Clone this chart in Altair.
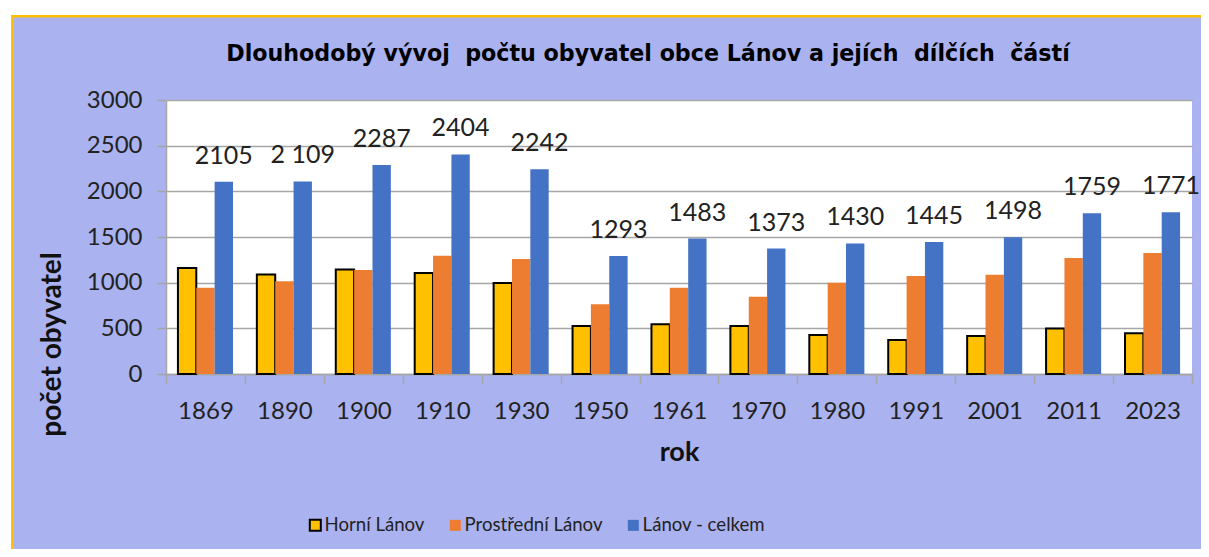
import altair as alt
import pandas as pd

years = ["1869", "1890", "1900", "1910", "1930", "1950", "1961", "1970", "1980", "1991", "2001", "2011", "2023"]
horni = [1160, 1090, 1145, 1105, 995, 525, 545, 525, 427, 372, 416, 497, 445]
prostredni = [945, 1015, 1140, 1295, 1258, 763, 945, 847, 1000, 1073, 1088, 1270, 1325]
celkem = [2105, 2109, 2287, 2404, 2242, 1293, 1483, 1373, 1430, 1445, 1498, 1759, 1771]
celkem_labels = ["2105", "2 109", "2287", "2404", "2242", "1293", "1483", "1373", "1430", "1445", "1498", "1759", "1771"]
series_names = ["Horní Lánov", "Prostřední Lánov", "Lánov - celkem"]
colors = ["#FFC000", "#ED7D31", "#4472C4"]
strokes = ["#000000", "transparent", "transparent"]
y_ticks = [0, 500, 1000, 1500, 2000, 2500, 3000]
title_text = "Dlouhodobý vývoj\u00a0 počtu obyvatel obce Lánov a jejích\u00a0 dílčích\u00a0 částí"

rows = []
for s, vals in zip(series_names, [horni, prostredni, celkem]):
    for i, (yr, v) in enumerate(zip(years, vals)):
        rows.append({"rok": yr, "series": s, "value": v,
                     "label": celkem_labels[i] if s == "Lánov - celkem" else ""})
df = pd.DataFrame(rows)

BG = "#AAB2F0"
GRID = "#A6A6A6"
TXT = "#222222"

legend = alt.Legend(orient="none", legendX=140, legendY=416, direction="horizontal", title=None,
                    symbolType="square", symbolSize=121, symbolStrokeWidth=2,
                    labelFont="Lato", labelFontSize=18.6, labelColor=TXT,
                    columnPadding=20, labelOffset=0, padding=0)

x_enc = alt.X("rok:N", sort=years, scale=alt.Scale(paddingInner=0, paddingOuter=0),
              axis=alt.Axis(title="rok", labelAngle=0, tickBand="extent",
                            labelFont="Lato", labelFontSize=24, labelColor=TXT, labelPadding=16,
                            tickSize=9, tickColor=GRID, tickWidth=1.5, domainColor=GRID, domainWidth=1.5,
                            titleFont="Lato", titleFontSize=27, titleFontWeight="bold", titleColor="#111111",
                            titleBaseline="alphabetic", titleY=86, grid=False))
xoff_enc = alt.XOffset("series:N", sort=series_names,
                       scale=alt.Scale(domain=series_names, paddingInner=0, paddingOuter=0.65))
y_enc = alt.Y("value:Q", scale=alt.Scale(domain=[0, 3000], nice=False),
              axis=alt.Axis(title="počet obyvatel", values=y_ticks, format="d", grid=True,
                            gridColor=GRID, gridWidth=1.5,
                            labelFont="Lato", labelFontSize=24, labelColor=TXT, labelPadding=15,
                            tickSize=9, tickColor=GRID, tickWidth=1.5, domainColor=GRID, domainWidth=1.5,
                            titleFont="Lato", titleFontSize=28, titleFontWeight="bold", titleColor="#111111",
                            titleX=-106, titleY=244, titleAlign="center", titleBaseline="alphabetic"))

bars = alt.Chart(df).mark_bar(strokeWidth=2).encode(
    x=x_enc, xOffset=xoff_enc, y=y_enc,
    fill=alt.Fill("series:N", sort=series_names, scale=alt.Scale(domain=series_names, range=colors), legend=legend),
    stroke=alt.Stroke("series:N", sort=series_names, scale=alt.Scale(domain=series_names, range=strokes), legend=legend),
)

labels = alt.Chart(df).transform_filter(alt.datum.series == "Lánov - celkem").mark_text(
    font="Lato", fontSize=25, color=TXT, baseline="middle", dy=-26
).encode(x=x_enc, xOffset=xoff_enc, y=y_enc, text="label:N")

one = alt.Data(values=[{"k": 1}])
white_v = alt.Chart(one).mark_rect(color="white").encode(
    x=alt.value(-158), x2=alt.value(-155), y=alt.value(-92), y2=alt.value(449))
yellow_v = alt.Chart(one).mark_rect(color="#FFC000").encode(
    x=alt.value(-155), x2=alt.value(-152), y=alt.value(-85), y2=alt.value(449))
white_h = alt.Chart(one).mark_rect(color="white").encode(
    x=alt.value(-158), x2=alt.value(1035), y=alt.value(-92), y2=alt.value(-85))
yellow_h = alt.Chart(one).mark_rect(color="#FFC000").encode(
    x=alt.value(-155), x2=alt.value(1035), y=alt.value(-85), y2=alt.value(-82.5))

title_df = alt.Data(values=[{"t": title_text}])
title_mark = alt.Chart(title_df).mark_text(
    font="DejaVu Sans", fontSize=22.2, fontWeight="bold", color="#000000",
    align="center", baseline="alphabetic"
).encode(x=alt.value(482), y=alt.value(-39), text="t:N")

chart = alt.layer(white_v, white_h, yellow_v, yellow_h, title_mark, bars, labels).properties(
    width=1026, height=274,
    padding={"left": 158, "top": 92, "right": 9, "bottom": 175},
    autosize=alt.AutoSizeParams(type="none"),
).configure(background=BG).configure_view(fill="white", strokeWidth=0)

chart.save("out.html", embed_options={"renderer": "svg", "actions": False})
